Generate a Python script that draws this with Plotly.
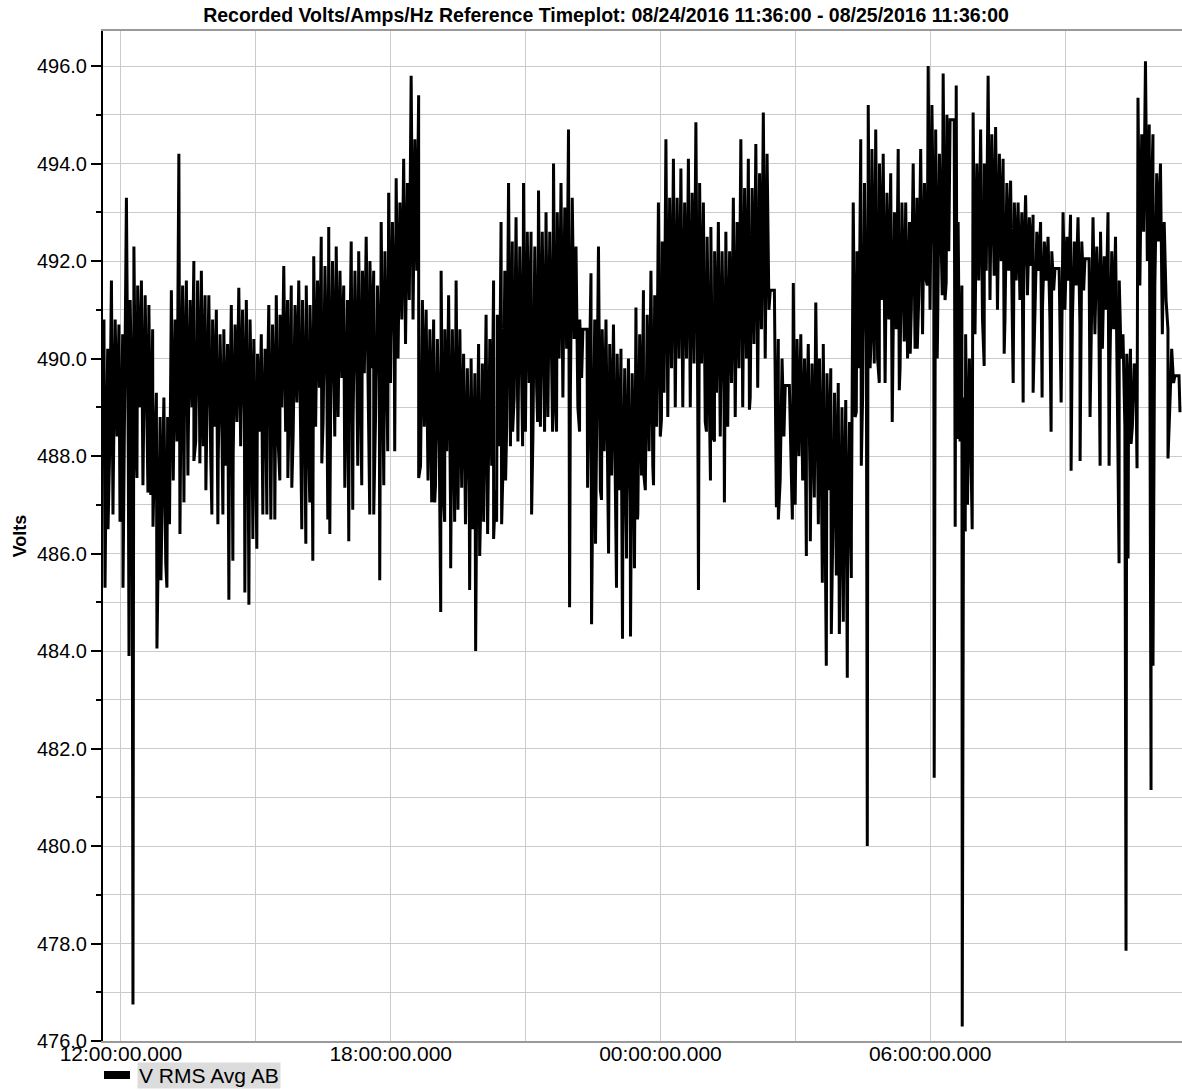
import plotly.graph_objects as go
import pandas as pd

# ---------------- data ----------------
start_time = "2016-08-24 11:36:00"
end_time = "2016-08-25 11:36:00"
bin_minutes = 10

# per 10-minute bin: extreme high / extreme low of the dense band
bin_high = [
    490.8, 491.6, 490.7, 493.3, 492.3, 491.6, 491.1, 489.3, 489.2, 491.4,
    494.2, 491.6, 492.0, 491.8, 491.3, 491.0, 490.6, 491.1, 491.45, 491.2,
    490.4, 490.5, 491.1, 491.3, 491.9, 491.5, 491.6, 491.5, 492.1, 492.5,
    492.7, 492.3, 491.5, 492.4, 492.2, 492.5, 491.8, 492.8, 493.4, 493.7,
    494.1, 495.8, 495.4, 491.0, 490.8, 491.8, 491.3, 491.6, 490.1, 490.0,
    490.3, 490.9, 491.6, 492.8, 493.6, 492.9, 493.6, 492.6, 493.45, 493.0,
    494.0, 493.6, 494.7, 492.3, 490.6, 491.75, 492.3, 490.8, 490.7, 490.2,
    490.0, 491.05, 491.4, 491.8, 493.2, 494.5, 494.1, 493.9, 494.1, 494.85,
    493.2, 492.7, 492.8, 492.6, 493.3, 494.5, 494.1, 494.4, 495.05, 491.4,
    490.4, 489.45, 491.55, 490.5, 490.3, 491.15, 490.3, 489.8, 489.5, 489.15,
    493.2, 494.5, 495.2, 494.7, 494.2, 493.8, 494.3, 493.2, 494.0, 494.3,
    496.0, 494.7, 495.85, 494.9, 492.8, 490.5, 495.05, 494.7, 495.8, 494.75,
    494.1, 493.65, 493.2, 493.35, 492.95, 492.8, 492.5, 491.85, 493.0, 492.95,
    492.9, 492.05, 492.9, 492.6, 493.0, 492.5, 490.5, 490.2, 495.35, 496.1,
    494.6, 494.0, 490.6, 489.65,
]
bin_low = [
    487.0, 487.5, 487.8, 488.0, 488.3, 488.0, 487.2, 485.9, 485.8, 487.5,
    488.5, 488.3, 488.3, 488.2, 488.0, 487.9, 487.8, 488.0, 488.2, 488.0,
    487.8, 487.9, 488.1, 488.3, 488.5, 488.4, 488.4, 488.5, 488.6, 488.7,
    488.8, 488.8, 488.6, 488.7, 488.8, 489.0, 488.8, 489.2, 489.5, 490.0,
    490.3, 490.8, 487.8, 487.5, 487.4, 487.3, 487.0, 486.9, 486.6, 486.5,
    486.7, 487.0, 487.3, 487.7, 488.2, 488.3, 488.5, 488.4, 488.6, 488.8,
    489.0, 489.2, 489.3, 489.0, 490.6, 487.5, 487.3, 486.8, 486.5, 486.3,
    486.3, 486.8, 487.3, 487.8, 488.4, 488.8, 489.0, 489.0, 489.0, 489.0,
    488.7, 488.4, 488.4, 488.6, 488.8, 489.0, 489.2, 489.4, 490.0, 491.4,
    487.5, 489.45, 487.0, 487.5, 487.2, 486.8, 486.5, 486.2, 485.8, 485.6,
    488.8, 489.2, 489.8, 490.0, 489.5, 489.5, 489.8, 490.0, 490.2, 490.5,
    491.0, 490.5, 491.2, 494.9, 488.3, 487.0, 490.5, 490.8, 491.2, 491.0,
    490.8, 490.5, 491.2, 491.3, 491.2, 491.0, 490.8, 491.85, 491.0, 490.8,
    490.7, 492.05, 490.5, 490.2, 489.8, 489.2, 488.6, 488.6, 491.5, 492.0,
    491.5, 490.5, 489.0, 489.65,
]
# per 10-minute bin: typical upper / lower edge of the band
bin_upper = [
    490.2, 490.8, 490.5, 491.2, 491.5, 491.3, 490.6, 488.8, 488.8, 490.8,
    491.5, 491.2, 491.6, 491.3, 490.8, 490.5, 490.3, 490.7, 491.0, 490.8,
    490.1, 490.2, 490.7, 490.9, 491.2, 491.1, 491.2, 491.1, 491.6, 491.9,
    492.0, 491.8, 491.2, 491.8, 491.8, 492.0, 491.5, 492.2, 492.8, 493.2,
    493.6, 494.5, 491.2, 490.6, 490.4, 490.6, 490.6, 490.6, 489.8, 489.7,
    489.9, 490.4, 490.9, 491.8, 492.4, 492.3, 492.6, 492.3, 492.6, 492.6,
    493.0, 493.1, 493.3, 490.8, 490.6, 490.8, 490.6, 490.3, 490.1, 489.8,
    489.7, 490.5, 490.9, 491.3, 492.4, 493.3, 493.3, 493.2, 493.4, 493.6,
    492.5, 492.2, 492.2, 492.2, 492.8, 493.5, 493.5, 493.8, 494.2, 491.4,
    490.0, 489.45, 490.4, 490.0, 489.9, 490.0, 489.7, 489.3, 489.0, 488.7,
    492.2, 493.6, 494.3, 494.0, 493.4, 493.0, 493.2, 492.8, 493.3, 493.6,
    495.2, 494.2, 495.0, 494.9, 491.5, 490.0, 494.0, 494.0, 494.6, 494.2,
    493.6, 493.2, 493.0, 492.9, 492.6, 492.4, 492.2, 491.85, 492.5, 492.4,
    492.4, 492.05, 492.3, 492.1, 492.2, 491.6, 490.1, 489.9, 494.6, 494.8,
    493.8, 492.8, 490.2, 489.65,
]
bin_lower = [
    488.0, 488.4, 488.6, 488.8, 489.0, 488.8, 488.0, 486.8, 486.6, 488.3,
    489.2, 489.0, 489.0, 488.9, 488.6, 488.5, 488.5, 488.7, 488.9, 488.7,
    488.5, 488.6, 488.8, 489.0, 489.2, 489.1, 489.1, 489.2, 489.4, 489.5,
    489.6, 489.6, 489.4, 489.6, 489.7, 489.8, 489.6, 490.0, 490.4, 490.8,
    491.2, 491.8, 488.6, 488.3, 488.2, 488.1, 487.8, 487.6, 487.4, 487.3,
    487.5, 487.8, 488.2, 488.6, 489.2, 489.3, 489.5, 489.4, 489.6, 489.8,
    490.0, 490.2, 490.4, 489.6, 490.6, 488.3, 488.1, 487.6, 487.3, 487.1,
    487.1, 487.6, 488.1, 488.6, 489.3, 489.8, 490.0, 490.0, 489.9, 489.9,
    489.6, 489.3, 489.3, 489.5, 489.8, 490.0, 490.3, 490.6, 491.0, 491.4,
    488.4, 489.45, 488.0, 488.4, 488.0, 487.6, 487.3, 487.0, 486.6, 486.4,
    489.8, 490.4, 491.0, 491.2, 490.8, 490.6, 490.8, 491.0, 491.3, 491.6,
    492.2, 491.6, 492.2, 494.9, 489.2, 488.0, 491.6, 491.8, 492.2, 492.0,
    491.8, 491.6, 491.8, 491.9, 491.8, 491.6, 491.4, 491.85, 491.6, 491.5,
    491.4, 492.05, 491.3, 491.0, 490.6, 490.0, 489.2, 489.2, 492.6, 493.0,
    492.4, 491.2, 489.5, 489.65,
]

# single-sample excursions (minutes after start, volts)
event_minutes = [
    2.7, 6.7, 13.3, 22.7, 26.7, 34.7, 40, 45.3, 53.3, 60, 66.7, 72, 77.3, 85.3,
    102.7, 108, 113.3, 121.3, 129.3, 137.3, 145.3, 153.3, 160, 168, 173.3,
    189.3, 194.7, 200, 205.3, 213.3, 218.7, 224, 229.3, 236, 246.7, 252,
    265.3, 270.7, 276, 280, 292, 300, 302.7, 309.3, 322.7, 328, 333.3, 340,
    345.3, 356, 361.3, 369.3, 374.7, 380, 389.3, 421.3, 438.7, 442.7, 450.7,
    456, 464, 469.3, 478.7, 484, 489.3, 497.3, 502.7, 508, 513.3, 521.3,
    525.3, 532, 537.3, 546.7, 560, 572, 580, 589.3, 600, 605.3, 622.7, 636,
    646.7, 652, 657.3, 665.3, 674.7, 685.3, 693.3, 698.7, 704, 709.3, 713.3,
    721.3, 734.7, 745.3, 794.7, 805.3, 810.7, 816, 829.3, 862.7, 898.7,
    901.3, 920, 938.7, 944, 949.3, 954.7, 960, 965.3, 972, 978.7, 982.7, 988,
    993.3, 998.7, 1005.3, 1012, 1020, 1025.3, 1029.3, 1036, 1053.3, 1062.7,
    1069.3, 1077.3, 1086.7, 1100, 1109.3, 1113.3, 1120, 1125.3, 1137.3,
    1138.7, 1140, 1146.7, 1150.7, 1160, 1176, 1189.3, 1202.7, 1214.7, 1228,
    1241.3, 1253.3, 1265.3, 1278.7, 1292, 1304, 1317.3, 1330.7, 1342.7, 1356,
    1365.3, 1368, 1372, 1380, 1398.7, 1401.3, 1421.3, 1437.3,
]
event_volts = [
    485.3, 486.5, 486.8, 486.65, 485.3, 483.9, 476.75, 487.55, 487.4, 487.25,
    486.55, 484.05, 485.45, 485.3, 486.4, 487.05, 487.6, 487.9, 487.85, 487.3,
    486.8, 486.6, 486.8, 485.05, 485.85, 485.2, 484.95, 486.3, 486.1, 486.8,
    486.8, 486.7, 486.7, 487.5, 487.55, 487.35, 486.5, 486.2, 487.05, 485.85,
    487.85, 486.7, 486.4, 488.4, 487.35, 486.25, 486.9, 487.8, 487.4, 486.8,
    486.8, 485.45, 487.4, 488.1, 488.1, 487.55, 487.05, 487.05, 484.8, 486.65,
    485.7, 486.65, 487.35, 486.8, 485.25, 484.0, 485.95, 486.65, 486.4, 486.3,
    486.65, 486.6, 487.5, 488.5, 488.2, 486.8, 488.7, 488.5, 488.5, 488.5,
    484.9, 488.5, 487.35, 484.55, 486.2, 487.1, 486.0, 485.3, 484.25, 485.9,
    484.3, 485.7, 486.7, 487.7, 487.4, 488.75, 485.25, 488.5, 487.5, 488.3,
    487.05, 488.95, 486.95, 486.7, 486.7, 485.95, 486.25, 487.15, 486.6, 485.4,
    483.7, 484.35, 485.55, 484.35, 484.6, 483.45, 485.5, 488.9, 487.8, 480.0,
    490.5, 489.9, 489.5, 488.7, 489.35, 490.35, 490.1, 490.2, 491.5, 481.4,
    490.0, 491.3, 491.55, 486.55, 495.6, 488.35, 476.3, 486.45, 486.5, 489.85,
    491.7, 490.1, 489.5, 489.1, 489.3, 489.2, 488.5, 489.1, 487.7, 487.9,
    488.8, 487.8, 487.8, 485.8, 477.85, 485.9, 488.25, 487.75, 481.15, 483.7,
    487.95, 488.9,
]

tick_times = [
    "2016-08-24 12:00:00", "2016-08-24 15:00:00", "2016-08-24 18:00:00",
    "2016-08-24 21:00:00", "2016-08-25 00:00:00", "2016-08-25 03:00:00",
    "2016-08-25 06:00:00", "2016-08-25 09:00:00",
]
tick_text = ["12:00:00.000", "", "18:00:00.000", "", "00:00:00.000", "",
             "06:00:00.000", ""]
y_tick_vals = [476, 478, 480, 482, 484, 486, 488, 490, 492, 494, 496]
y_tick_text = [f"{v:.1f}" for v in y_tick_vals]

series_name = "V RMS Avg AB"
title_text = ("Recorded Volts/Amps/Hz Reference Timeplot: "
              "08/24/2016 11:36:00 - 08/25/2016 11:36:00")

# ---------------- build the sample sequence ----------------
t0 = pd.Timestamp(start_time)
pts = []
for i in range(len(bin_high)):
    b = i * bin_minutes
    hi, lo, up, dn = bin_high[i], bin_low[i], bin_upper[i], bin_lower[i]
    if hi == lo:  # recorder held one value (flat step)
        pts.append((b + 0.5, hi))
        pts.append((b + 6.0, hi))
    else:
        pts.append((b + 1.25, hi))
        pts.append((b + 3.75, lo))
        pts.append((b + 6.25, up))
        pts.append((b + 8.75, dn))
for m, v in zip(event_minutes, event_volts):
    pts.append((m, v))
pts.sort(key=lambda p: p[0])
xs = [t0 + pd.Timedelta(minutes=m) for m, _ in pts]
ys = [v for _, v in pts]

FONT = "Arial, Liberation Sans, sans-serif"
GRID = "#cbcbcb"

fig = go.Figure()
fig.add_trace(go.Scatter(x=xs, y=ys, mode="lines", name=series_name,
                         line=dict(color="black", width=3.0),
                         showlegend=False))

fig.update_layout(
    width=1182, height=1090,
    margin=dict(l=103, r=0, t=31, b=49),
    paper_bgcolor="white", plot_bgcolor="white",
    font=dict(family=FONT, color="black", size=20),
    title=dict(text=title_text, x=606 / 1182, xref="container",
               xanchor="center", y=1 - 15 / 1090, yref="container",
               yanchor="middle",
               font=dict(family=FONT, size=19.5, color="black",
                         weight="bold")),
    showlegend=False,
)
fig.update_xaxes(
    type="date", range=[start_time, end_time],
    tickvals=tick_times, ticktext=tick_text, ticks="",
    ticklabelstandoff=-7,
    showgrid=True, gridcolor=GRID, gridwidth=1,
    showline=True, linecolor="#9a9a9a", linewidth=2, mirror=True,
    zeroline=False, tickfont=dict(size=21),
)
fig.update_yaxes(
    range=[476, 496.72], tickvals=y_tick_vals, ticktext=y_tick_text,
    ticks="outside", ticklen=10, tickwidth=2, tickcolor="black",
    showgrid=True, gridcolor=GRID, gridwidth=1,
    minor=dict(dtick=1, tick0=476, ticks="outside", ticklen=5, tickwidth=1.5,
               tickcolor="black", showgrid=True, gridcolor=GRID, gridwidth=1),
    showline=True, linecolor="black", linewidth=2,
    zeroline=False, tickfont=dict(size=20),
    title=dict(text="Volts", standoff=6,
               font=dict(family=FONT, size=18, color="black", weight="bold")),
)

# legend drawn as sample line + label
pw, ph = 1079.0, 1010.0
fig.add_shape(type="line", xref="paper", yref="paper",
              x0=(104 - 103) / pw, x1=(130 - 103) / pw,
              y0=(1041 - 1075) / ph, y1=(1041 - 1075) / ph,
              line=dict(color="black", width=8))
fig.add_annotation(text=series_name, xref="paper", yref="paper",
                   x=(137 - 103) / pw, y=(1041 - 1075) / ph,
                   xanchor="left", yanchor="middle", showarrow=False,
                   bgcolor="#dcdcdc", borderpad=1,
                   font=dict(family=FONT, size=21, color="black"))

fig.write_html(
    "out.html",
    config={"displayModeBar": False},
    post_script="document.body.style.margin='0';"
                "document.body.style.overflow='hidden';",
)
